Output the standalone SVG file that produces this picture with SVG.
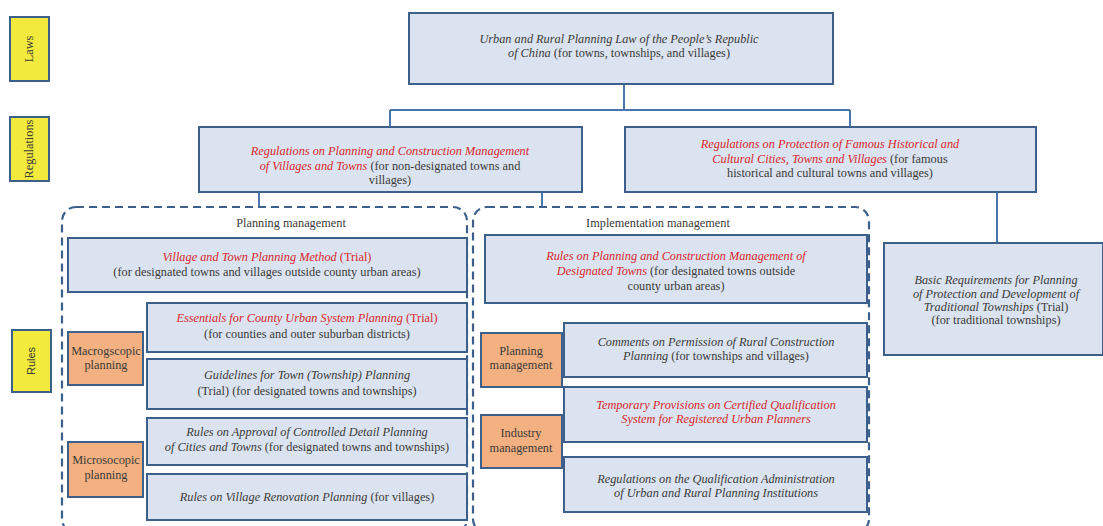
<svg xmlns="http://www.w3.org/2000/svg" width="1103" height="526" viewBox="0 0 1103 526">
<style>
.bg{fill:#ffffff}
.box{fill:#dae3ef;stroke:#3c5f8c;stroke-width:2}
.tag{fill:#f2ea3c;stroke:#3c5f8c;stroke-width:2}
.org{fill:#f3b182;stroke:#3c5f8c;stroke-width:2}
.dash{fill:none;stroke:#3c5f8c;stroke-width:2.2;stroke-dasharray:8 5}
.con{fill:none;stroke:#4a76ad;stroke-width:2}
text{font-family:"Liberation Serif","Times New Roman",serif;font-size:12.3px;fill:#3a3a3a;text-anchor:middle}
.i{font-style:italic}
.r{fill:#d9262c;font-style:italic}
.sans{font-family:"Liberation Sans",Arial,sans-serif;font-size:11px}
</style>
<rect class="bg" x="0" y="0" width="1103" height="526"/>

<g id="connectors">
<path class="con" d="M624 84 V110 M390 110 H850 M390 110 V127 M850 110 V127"/>
<path class="con" d="M259 192 V207 M542 192 V207 M997 192 V243"/>
</g>

<g id="laws-tag"><rect class="tag" x="10" y="17" width="39" height="64"/><text transform="translate(33,49) rotate(-90)">Laws</text></g>
<g id="regulations-tag"><rect class="tag" x="10" y="117" width="39" height="64"/><text transform="translate(33,149) rotate(-90)">Regulations</text></g>
<g id="rules-tag"><rect class="tag" x="12" y="330" width="39" height="62"/><text class="sans" transform="translate(35,361) rotate(-90)">Rules</text></g>

<g id="law">
<rect class="box" x="409" y="13" width="424" height="71"/>
<text x="619" y="43"><tspan class="i">Urban and Rural Planning Law of the People’s Republic</tspan></text>
<text x="619" y="57"><tspan class="i">of China</tspan> (for towns, townships, and villages)</text>
</g>

<g id="reg-villages-towns">
<rect class="box" x="199" y="127" width="383" height="65"/>
<text x="390" y="155"><tspan class="r">Regulations on Planning and Construction Management</tspan></text>
<text x="390" y="170"><tspan class="r">of Villages and Towns</tspan> (for non-designated towns and</text>
<text x="390" y="184">villages)</text>
</g>

<g id="reg-historical">
<rect class="box" x="625" y="127" width="411" height="65"/>
<text x="830" y="148"><tspan class="r">Regulations on Protection of Famous Historical and</tspan></text>
<text x="830" y="163"><tspan class="r">Cultural Cities, Towns and Villages</tspan> (for famous</text>
<text x="830" y="177">historical and cultural towns and villages)</text>
</g>

<g id="planning-management">
<rect class="dash" x="62" y="207" width="405" height="326" rx="14"/>
<text x="291" y="227">Planning management</text>
</g>

<g id="implementation-management">
<rect class="dash" x="473" y="207" width="396" height="326" rx="14"/>
<text x="658" y="227">Implementation management</text>
</g>

<g id="village-town-method">
<rect class="box" x="68" y="238" width="399" height="54"/>
<text x="267" y="261"><tspan class="r">Village and Town Planning Method</tspan><tspan fill="#d9262c"> (Trial)</tspan></text>
<text x="267" y="276">(for designated towns and villages outside county urban areas)</text>
</g>

<g id="designated-towns">
<rect class="box" x="485" y="235" width="382" height="68"/>
<text x="676" y="260"><tspan class="r">Rules on Planning and Construction Management of</tspan></text>
<text x="676" y="275"><tspan class="r">Designated Towns</tspan> (for designated towns outside</text>
<text x="676" y="290">county urban areas)</text>
</g>

<g id="traditional-townships">
<rect class="box" x="884" y="243" width="219" height="112"/>
<text x="996" y="284"><tspan class="i">Basic Requirements for Planning</tspan></text>
<text x="996" y="298"><tspan class="i">of Protection and Development of</tspan></text>
<text x="996" y="311"><tspan class="i">Traditional Townships</tspan> (Trial)</text>
<text x="996" y="324">(for traditional townships)</text>
</g>

<g id="macro">
<rect class="org" x="68" y="332" width="75" height="53"/>
<text x="106" y="355">Macrogscopic</text>
<text x="106" y="369">planning</text>
</g>

<g id="micro">
<rect class="org" x="68" y="442" width="75" height="55"/>
<text x="106" y="464">Microsocopic</text>
<text x="106" y="479">planning</text>
</g>

<g id="county-urban">
<rect class="box" x="147" y="303" width="320" height="49"/>
<text x="307" y="322"><tspan class="r">Essentials for County Urban System Planning</tspan><tspan fill="#d9262c"> (Trial)</tspan></text>
<text x="307" y="338">(for counties and outer suburban districts)</text>
</g>

<g id="town-guidelines">
<rect class="box" x="147" y="359" width="320" height="50"/>
<text x="307" y="379"><tspan class="i">Guidelines for Town (Township) Planning</tspan></text>
<text x="307" y="395">(Trial) (for designated towns and townships)</text>
</g>

<g id="controlled-detail">
<rect class="box" x="147" y="418" width="320" height="47"/>
<text x="307" y="436"><tspan class="i">Rules on Approval of Controlled Detail Planning</tspan></text>
<text x="307" y="451"><tspan class="i">of Cities and Towns</tspan> (for designated towns and townships)</text>
</g>

<g id="village-renovation">
<rect class="box" x="147" y="474" width="320" height="46"/>
<text x="307" y="501"><tspan class="i">Rules on Village Renovation Planning</tspan> (for villages)</text>
</g>

<g id="planning-mgmt">
<rect class="org" x="481" y="333" width="81" height="54"/>
<text x="521" y="355">Planning</text>
<text x="521" y="369">management</text>
</g>

<g id="industry-mgmt">
<rect class="org" x="481" y="415" width="81" height="53"/>
<text x="521" y="437">Industry</text>
<text x="521" y="452">management</text>
</g>

<g id="rural-construction">
<rect class="box" x="564" y="323" width="303" height="54"/>
<text x="716" y="346"><tspan class="i">Comments on Permission of Rural Construction</tspan></text>
<text x="716" y="360"><tspan class="i">Planning</tspan> (for townships and villages)</text>
</g>

<g id="registered-planners">
<rect class="box" x="564" y="387" width="303" height="55"/>
<text x="716" y="409"><tspan class="r">Temporary Provisions on Certified Qualification</tspan></text>
<text x="716" y="423"><tspan class="r">System for Registered Urban Planners</tspan></text>
</g>

<g id="qualification-admin">
<rect class="box" x="564" y="457" width="303" height="55"/>
<text x="716" y="483"><tspan class="i">Regulations on the Qualification Administration</tspan></text>
<text x="716" y="497"><tspan class="i">of Urban and Rural Planning Institutions</tspan></text>
</g>
</svg>
